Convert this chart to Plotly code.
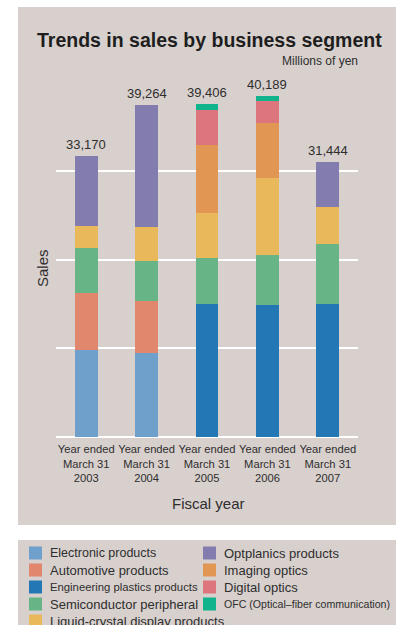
import plotly.graph_objects as go

categories = ["Year ended<br>March 31<br>2003", "Year ended<br>March 31<br>2004",
              "Year ended<br>March 31<br>2005", "Year ended<br>March 31<br>2006",
              "Year ended<br>March 31<br>2007"]

# Millions of yen, stacking order bottom -> top
electronic = [10270, 9910, 0, 0, 0]
engineering = [0, 0, 15690, 15580, 15690]
automotive = [6730, 6140, 0, 0, 0]
semiconductor = [5310, 4720, 5430, 5900, 7080]
lcd = [2600, 4010, 5310, 9090, 4370]
optplanics = [8260, 14480, 0, 0, 5430]
imaging = [0, 0, 8140, 6610, 0]
digital = [0, 0, 4130, 2600, 0]
ofc = [0, 0, 710, 590, 0]

total_labels = ["33,170", "39,264", "39,406", "40,189", "31,444"]

series_names = ["Electronic products", "Engineering plastics products", "Automotive products",
                "Semiconductor peripheral", "Liquid-crystal display products", "Optplanics products",
                "Imaging optics", "Digital optics", "OFC (Optical\u2013fiber communication)"]
series_values = [electronic, engineering, automotive, semiconductor, lcd, optplanics,
                 imaging, digital, ofc]
series_colors = ["#6f9fcb", "#2377b5", "#e0876d", "#67b487", "#e9b85b", "#837daf",
                 "#e19653", "#dd767c", "#10b38c"]

# legend layout (columns)
legend_col1 = ["Electronic products", "Automotive products", "Engineering plastics products",
               "Semiconductor peripheral", "Liquid-crystal display products"]
legend_col2 = ["Optplanics products", "Imaging optics", "Digital optics",
               "OFC (Optical\u2013fiber communication)"]
legend_sizes = {"Engineering plastics products": 11.3,
                "OFC (Optical\u2013fiber communication)": 10.6,
                "Electronic products": 12.5}

PANEL = "#d8d0cd"
TXT = "#2e2e2e"
FONT = "Liberation Sans, Arial, sans-serif"

W, H = 404, 625
L, R, T, B = 56, 46, 82, 188
pw, ph = W - L - R, H - T - B


def px(xpix):
    return (xpix - L) / pw


def py(ypix):
    return (H - B - ypix) / ph


fig = go.Figure()
for name, vals, col in zip(series_names, series_values, series_colors):
    fig.add_trace(go.Bar(x=categories, y=vals, name=name, marker_color=col,
                         marker_line_width=0, showlegend=False))

totals = [sum(s[i] for s in series_values) for i in range(len(categories))]

shapes = [
    dict(type="rect", xref="paper", yref="paper", x0=px(18), x1=px(396), y0=py(525), y1=py(7),
         fillcolor=PANEL, line_width=0, layer="below"),
    dict(type="rect", xref="paper", yref="paper", x0=px(18), x1=px(396), y0=py(640), y1=py(540),
         fillcolor=PANEL, line_width=0, layer="below"),
]

annotations = [
    dict(text="<b>Trends in sales by business segment</b>", x=px(209), y=py(40), xref="paper",
         yref="paper", showarrow=False, font=dict(size=19.5, color="#1e1e1e", family=FONT),
         xanchor="center", yanchor="middle"),
    dict(text="Millions of yen", x=px(360), y=py(61), xref="paper", yref="paper", showarrow=False,
         font=dict(size=12, color=TXT, family=FONT), xanchor="right", yanchor="middle"),
    dict(text="Fiscal year", x=px(208), y=py(503), xref="paper", yref="paper", showarrow=False,
         font=dict(size=15, color=TXT, family=FONT), xanchor="center", yanchor="middle"),
    dict(text="Sales", x=px(42), y=py(268), xref="paper", yref="paper", showarrow=False,
         textangle=-90, font=dict(size=15, color=TXT, family=FONT),
         xanchor="center", yanchor="middle"),
]
for c, t, lab in zip(categories, totals, total_labels):
    annotations.append(dict(text=lab, x=c, y=t, xref="x", yref="y", showarrow=False,
                            yanchor="bottom", yshift=2,
                            font=dict(size=13, color=TXT, family=FONT)))

color_of = dict(zip(series_names, series_colors))
row_y = [553, 570, 587, 604, 621]
for col_names, sq_x, tx_x in ((legend_col1, 29, 48), (legend_col2, 203, 222)):
    for name, yy in zip(col_names, row_y):
        shapes.append(dict(type="rect", xref="paper", yref="paper", x0=px(sq_x), x1=px(sq_x + 13),
                           y0=py(yy + 6.5), y1=py(yy - 6.5), fillcolor=color_of[name],
                           line_width=0))
        annotations.append(dict(text=name, x=px(tx_x), y=py(yy), xref="paper", yref="paper",
                                showarrow=False, xanchor="left", yanchor="middle",
                                font=dict(size=legend_sizes.get(name, 13), color=TXT,
                                          family=FONT)))

fig.update_layout(
    width=W, height=H,
    margin=dict(l=L, r=R, t=T, b=B, autoexpand=False),
    paper_bgcolor="white", plot_bgcolor="rgba(0,0,0,0)",
    barmode="stack", bargap=0.62,
    shapes=shapes, annotations=annotations,
    font=dict(family=FONT, color=TXT),
    xaxis=dict(showgrid=False, showline=False, ticks="", zeroline=False, tickangle=0,
               ticklabelstandoff=4,
               tickfont=dict(size=11.2, color=TXT, family=FONT)),
    yaxis=dict(range=[0, 41970], tick0=0, dtick=10490, showgrid=True, gridcolor="white",
               gridwidth=2, zeroline=True, zerolinecolor="white", zerolinewidth=2,
               showticklabels=False, ticks="", showline=False),
)

fig.write_html("out.html")
